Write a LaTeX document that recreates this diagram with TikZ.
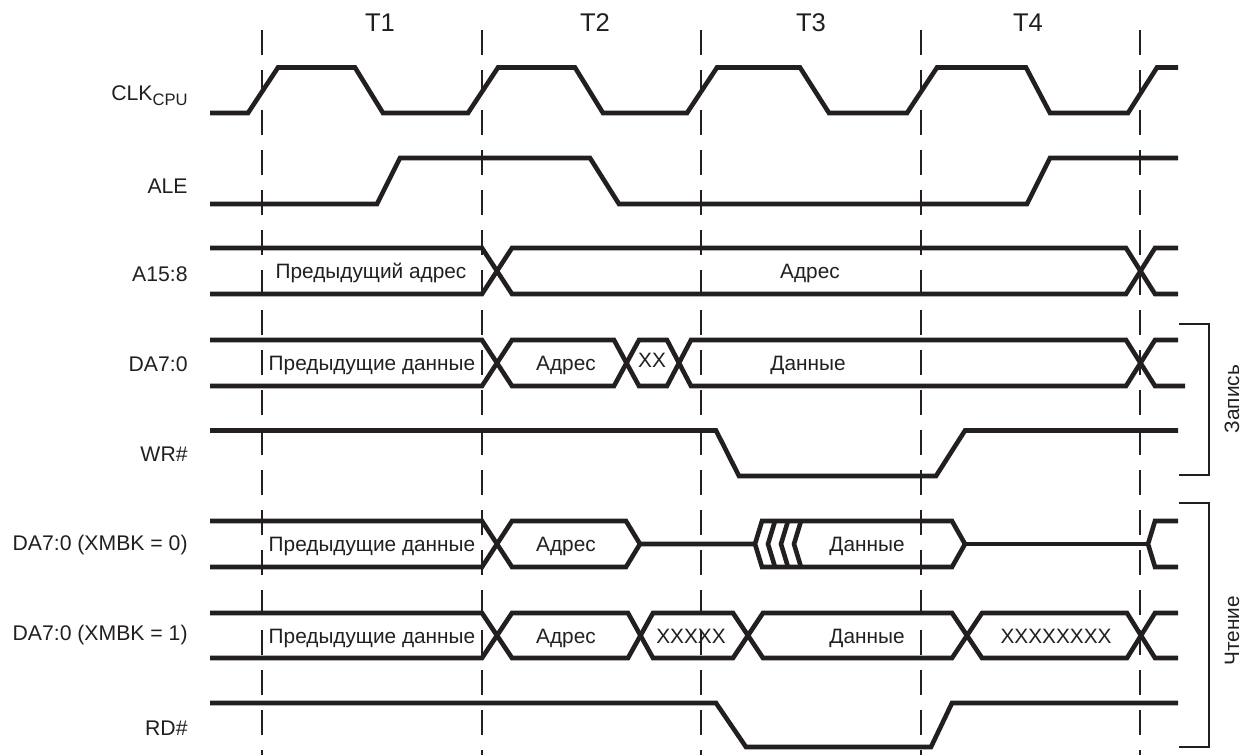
\documentclass[tikz,border=0pt]{standalone}
\usepackage{fontspec}
\setmainfont{Liberation Sans}
\usepackage{tikz}
\definecolor{tdblack}{RGB}{35,31,32}

\begin{document}
\begin{tikzpicture}[x=0.5pt, y=-0.5pt,
    sigline/.style={draw=tdblack, line width=2.3pt, line join=miter},
    tickline/.style={draw=tdblack, line width=1.3pt, dash pattern=on 12.5pt off 7.5pt},
    brkline/.style={draw=tdblack, line width=1.3pt},
    lbl/.style={anchor=base east, text=tdblack, inner sep=0pt, font=\fontsize{10.6}{12}\selectfont},
    txt/.style={anchor=base, text=tdblack, inner sep=0pt, font=\fontsize{10.4}{12}\selectfont},
    tnum/.style={anchor=base, text=tdblack, inner sep=0pt, font=\fontsize{12.8}{15}\selectfont}]
    \useasboundingbox (0,0) rectangle (1253,755);

    % Cycle boundaries
    \draw[tickline] (262,30) -- (262,755);
    \draw[tickline] (482,30) -- (482,755);
    \draw[tickline] (701,30) -- (701,755);
    \draw[tickline] (921,30) -- (921,755);
    \draw[tickline] (1140,30) -- (1140,755);
    \node[tnum] (t1) at (380,32) {T1};
    \node[tnum] (t2) at (595,32) {T2};
    \node[tnum] (t3) at (811,32) {T3};
    \node[tnum] (t4) at (1028,32) {T4};

    % Signal names
    \node[lbl] (clk) at (188,100) {CLK\raisebox{-2.6pt}{\fontsize{8.3}{9}\selectfont CPU}};
    \node[lbl] (ale) at (188,193) {ALE};
    \node[lbl] (ahi) at (188,281) {A15:8};
    \node[lbl] (dawr) at (188,371) {DA7:0};
    \node[lbl] (wr) at (188,461) {WR\#};
    \node[lbl] (darda) at (188,550) {DA7:0 (XMBK = 0)};
    \node[lbl] (dardb) at (188,640) {DA7:0 (XMBK = 1)};
    \node[lbl] (rd) at (188,735) {RD\#};

    % CLK
    \draw[sigline] (210,113) -- (248,113) -- (278,67.5) -- (355,67.5) -- (383,113) -- (468,113)
        -- (498,67.5) -- (575,67.5) -- (603,113) -- (687,113) -- (717,67.5) -- (800,67.5)
        -- (829,113) -- (907,113) -- (937,67.5) -- (1026,67.5) -- (1050,113) -- (1128,113)
        -- (1157,67.5) -- (1178,67.5);

    % ALE
    \draw[sigline] (210,204) -- (377,204) -- (400,158) -- (590,158) -- (619,204) -- (1027,204)
        -- (1050,158) -- (1178,158);

    % A15:8
    \draw[sigline] (210,248) -- (482,248) -- (512,294) -- (1126,294) -- (1155,248) -- (1178,248);
    \draw[sigline] (210,294) -- (482,294) -- (512,248) -- (1126,248) -- (1155,294) -- (1178,294);
    \node[txt] (ahiold) at (371,278.5) {Предыдущий адрес};
    \node[txt] (ahinew) at (810,278.5) {Адрес};

    % DA7:0, write
    \draw[sigline] (210,340) -- (482,340) -- (512,386) -- (614,386) -- (639,340) -- (667,340)
        -- (691,386) -- (1126,386) -- (1155,340) -- (1178,340);
    \draw[sigline] (210,386) -- (482,386) -- (512,340) -- (614,340) -- (639,386) -- (667,386)
        -- (691,340) -- (1126,340) -- (1155,386) -- (1185,386);
    \node[txt] (wrold) at (372,370.5) {Предыдущие данные};
    \node[txt] (wradr) at (566,370.5) {Адрес};
    \node[txt] (wrxx) at (652,367) {XX};
    \node[txt] (wrdat) at (808,370.5) {Данные};

    % WR#
    \draw[sigline] (210,430.5) -- (716,430.5) -- (739,476) -- (936,476) -- (965,430.5) -- (1178,430.5);

    % DA7:0, read, XMBK = 0
    \draw[sigline] (210,521) -- (482,521) -- (512,567) -- (626,567) -- (640,544) -- (755,544);
    \draw[sigline] (210,567) -- (482,567) -- (512,521) -- (626,521) -- (640,544);
    \draw[sigline] (755,544) -- (762,521) -- (952,521) -- (965,544) -- (952,567) -- (762,567) -- cycle;
    \draw[sigline] (775,521) -- (768,544) -- (775,567);
    \draw[sigline] (788,521) -- (781,544) -- (788,567);
    \draw[sigline] (801,521) -- (794,544) -- (801,567);
    \draw[sigline] (965,544) -- (1148,544);
    \draw[sigline] (1178,521) -- (1155,521) -- (1148,544) -- (1155,567) -- (1178,567);
    \node[txt] (raold) at (372,551.5) {Предыдущие данные};
    \node[txt] (raadr) at (566,551.5) {Адрес};
    \node[txt] (radat) at (867,551.5) {Данные};

    % DA7:0, read, XMBK = 1
    \draw[sigline] (210,613) -- (482,613) -- (512,658) -- (628,658) -- (653,613) -- (733,613)
        -- (763,658) -- (952,658) -- (982,613) -- (1127,613) -- (1155,658) -- (1178,658);
    \draw[sigline] (210,658) -- (482,658) -- (512,613) -- (628,613) -- (653,658) -- (733,658)
        -- (763,613) -- (952,613) -- (982,658) -- (1127,658) -- (1155,613) -- (1178,613);
    \node[txt] (rbold) at (372,643) {Предыдущие данные};
    \node[txt] (rbadr) at (566,643) {Адрес};
    \node[txt] (rbxa) at (691,643) {XXXXX};
    \node[txt] (rbdat) at (867,643) {Данные};
    \node[txt] (rbxb) at (1056,643) {XXXXXXXX};

    % RD#
    \draw[sigline] (210,703) -- (716,703) -- (746,747) -- (931,747) -- (952,703) -- (1178,703);

    % Brackets
    \draw[brkline] (1179,324) -- (1209,324) -- (1209,475) -- (1179,475);
    \node[rotate=90, text=tdblack, inner sep=0pt, font=\fontsize{10.4}{12}\selectfont] (wrgrp) at (1232,399) {Запись};
    \draw[brkline] (1179,503) -- (1209,503) -- (1209,747) -- (1179,747);
    \node[rotate=90, text=tdblack, inner sep=0pt, font=\fontsize{10.4}{12}\selectfont] (rdgrp) at (1232,631) {Чтение};
\end{tikzpicture}
\end{document}
